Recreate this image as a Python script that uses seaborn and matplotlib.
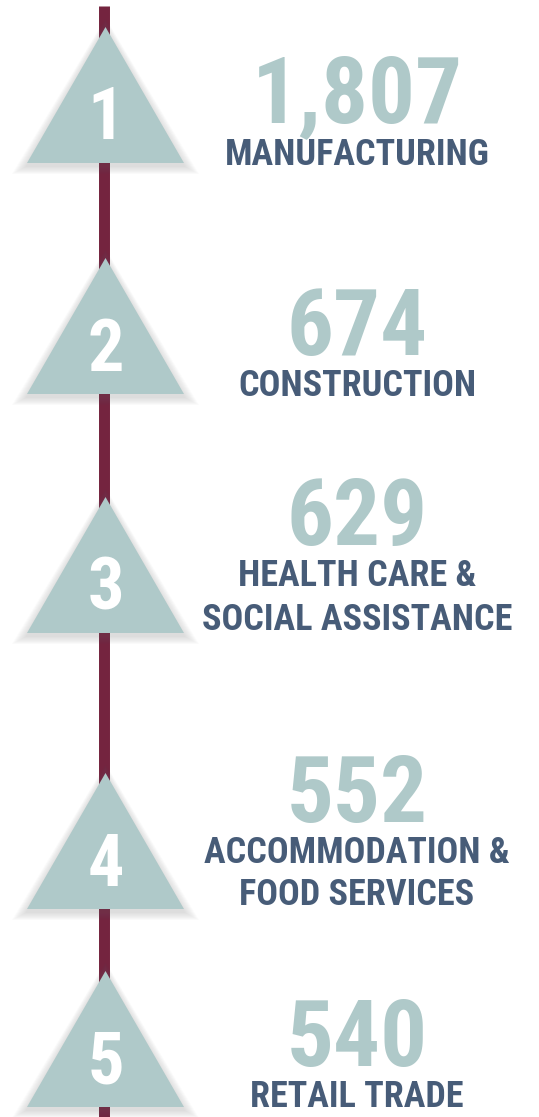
"""
Infográfico: top 5 setores (ranking com triângulos numerados ao longo de uma linha vertical).
Saída: out.png (539x1117 px)
"""

import matplotlib.pyplot as plt
import seaborn as sns
from matplotlib import font_manager as fm
from matplotlib.patches import Polygon

# ---------------------------------------------------------------------------
# 1. Dados
# ---------------------------------------------------------------------------
ranks = ["1", "2", "3", "4", "5"]
values = [1807, 674, 629, 552, 540]
sectors = [
    "MANUFACTURING",
    "CONSTRUCTION",
    "HEALTH CARE &\nSOCIAL ASSISTANCE",
    "ACCOMMODATION &\nFOOD SERVICES",
    "RETAIL TRADE",
]

# ---------------------------------------------------------------------------
# 2. Layout (pixels, y para baixo)
# ---------------------------------------------------------------------------
W, H = 539, 1117
apex_y = [27, 258, 497, 773, 971]
tri_h = 136
tri_half_w = 78.5
tri_x = 105.5
line_x = 103.5
text_x = 357
digit_base = [139, 371, 609, 886, 1083]
number_base = [122, 355, 545, 822, 1066]
label_base = [[165], [396], [586, 630], [863, 905], [1107]]

TEAL = "#AFC9C9"
SLATE = "#475C78"
MAROON = "#74243F"

sns.set_theme(style="white")


# fonte condensada em negrito (a primeira que existir)
def pick_condensed_bold():
    wanted = [
        "liberationsansnarrow-bold.",
        "notosans-condensedbold.",
        "robotocondensed-bold.",
        "opensans-condensedbold.",
        "opensanscondensed-bold.",
        "dejavusanscondensed-bold.",
    ]
    files = {f.fname.split("/")[-1].lower(): f.fname for f in fm.fontManager.ttflist}
    for w in wanted:
        for name, path in files.items():
            if name.startswith(w):
                return fm.FontProperties(fname=path)
    return fm.FontProperties(family=["Roboto", "DejaVu Sans"], weight="bold")


FONT = pick_condensed_bold()

fig = plt.figure(figsize=(W / 100, H / 100), dpi=100)
ax = fig.add_axes([0, 0, 1, 1])
ax.set_xlim(0, W)
ax.set_ylim(H, 0)
ax.axis("off")

# linha vertical
ax.plot([line_x, line_x], [6, H], color=MAROON, linewidth=7.9,
        solid_capstyle="butt", zorder=1)

for i, rank in enumerate(ranks):
    top = apex_y[i]
    base = top + tri_h
    # sombra suave
    for k in range(10, 0, -1):
        g = k * 1.0
        shadow = Polygon(
            [(tri_x, top - g * 1.1 + 2),
             (tri_x - tri_half_w - g * 1.5, base + g * 0.8 + 3),
             (tri_x + tri_half_w + g * 1.5, base + g * 0.8 + 3)],
            closed=True, facecolor="#707070", edgecolor="none", alpha=0.025, zorder=2,
        )
        ax.add_patch(shadow)
    tri = Polygon(
        [(tri_x, top), (tri_x - tri_half_w, base), (tri_x + tri_half_w, base)],
        closed=True, facecolor=TEAL, edgecolor="none", zorder=3,
    )
    ax.add_patch(tri)
    ax.text(tri_x, digit_base[i], rank, color="white", fontproperties=FONT,
            fontsize=52, ha="center", va="baseline", zorder=4)

    ax.text(text_x, number_base[i], f"{values[i]:,}", color=TEAL, fontproperties=FONT,
            fontsize=67, ha="center", va="baseline", zorder=4)
    for line, yb in zip(sectors[i].split("\n"), label_base[i]):
        ax.text(text_x, yb, line, color=SLATE, fontproperties=FONT, fontsize=26,
                ha="center", va="baseline", zorder=4)

fig.savefig("out.png", dpi=100)
plt.close(fig)
